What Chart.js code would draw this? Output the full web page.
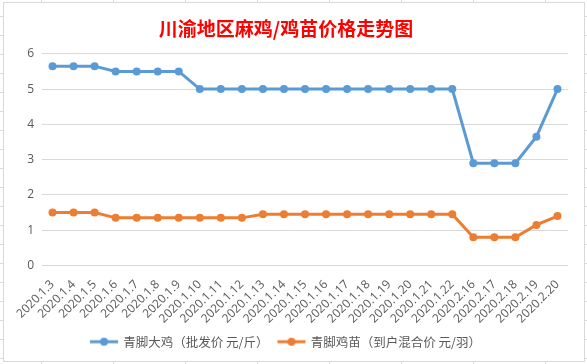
<!DOCTYPE html>
<html>
<head>
<meta charset="utf-8">
<script src="https://cdn.jsdelivr.net/npm/chart.js@4/dist/chart.umd.min.js"></script>
<style>
  html, body { margin: 0; padding: 0; }
  body {
    width: 587px; height: 364px; overflow: hidden; position: relative;
    background-color: #fff;
    background-image:
      linear-gradient(to right, #d9d9d9 1px, transparent 1px),
      linear-gradient(to bottom, #d9d9d9 1px, transparent 1px);
    background-size: 72px 100%, 100% 19px;
    background-position: 41px 0, 0 16px;
  }
  #box {
    position: absolute; left: 3px; top: 2px; width: 580px; height: 358px;
    border: 1px solid #d9d9d9; background: #fff;
  }
  canvas { display: block; }
</style>
</head>
<body>
<div id="box"><canvas id="c" width="580" height="358"></canvas></div>
<script>
const categories = ["2020.1.3","2020.1.4","2020.1.5","2020.1.6","2020.1.7","2020.1.8","2020.1.9","2020.1.10","2020.1.11","2020.1.12","2020.1.13","2020.1.14","2020.1.15","2020.1.16","2020.1.17","2020.1.18","2020.1.19","2020.1.20","2020.1.21","2020.1.22","2020.2.16","2020.2.17","2020.2.18","2020.2.19","2020.2.20"];
const chickenPrice = [5.65,5.65,5.65,5.5,5.5,5.5,5.5,5,5,5,5,5,5,5,5,5,5,5,5,5,2.9,2.9,2.9,3.65,5];
const chickPrice = [1.5,1.5,1.5,1.35,1.35,1.35,1.35,1.35,1.35,1.35,1.45,1.45,1.45,1.45,1.45,1.45,1.45,1.45,1.45,1.45,0.8,0.8,0.8,1.15,1.4];
const seriesNames = ["青脚大鸡（批发价 元/斤）","青脚鸡苗（到户混合价 元/羽）"];
const titleText = "川渝地区麻鸡/鸡苗价格走势图";

function legendIcon(color) {
  const cv = document.createElement('canvas');
  cv.width = 30; cv.height = 10;
  const g = cv.getContext('2d');
  g.strokeStyle = color; g.lineWidth = 3;
  g.beginPath(); g.moveTo(1, 5); g.lineTo(29, 5); g.stroke();
  g.fillStyle = color;
  g.beginPath(); g.arc(15, 5, 4, 0, Math.PI * 2); g.fill();
  return cv;
}
const colors = ["#5B9BD5", "#ED7D31"];
const icons = colors.map(legendIcon);

new Chart(document.getElementById('c'), {
  type: 'line',
  data: {
    labels: categories,
    datasets: [
      { label: seriesNames[0], data: chickenPrice, borderColor: colors[0], backgroundColor: colors[0],
        borderWidth: 3, pointRadius: 4, pointBackgroundColor: colors[0], pointBorderWidth: 0, tension: 0 },
      { label: seriesNames[1], data: chickPrice, borderColor: colors[1], backgroundColor: colors[1],
        borderWidth: 3, pointRadius: 4, pointBackgroundColor: colors[1], pointBorderWidth: 0, tension: 0 }
    ]
  },
  options: {
    responsive: false,
    animation: false,
    devicePixelRatio: 1,
    layout: { padding: { left: 0, right: 16, top: 0, bottom: 3 } },
    plugins: {
      title: {
        display: true, text: titleText, color: '#FF0000',
        font: { family: '"Noto Sans CJK SC"', size: 19, weight: 'bold' },
        padding: { top: 14, bottom: 14 }
      },
      legend: {
        position: 'bottom',
        labels: {
          color: '#595959',
          font: { family: '"Noto Sans CJK SC", "Noto Sans"', size: 12.5 },
          usePointStyle: true, pointStyleWidth: 26, boxHeight: 10,
          padding: 10,
          generateLabels: (chart) => chart.data.datasets.map((ds, i) => ({
            text: ds.label, pointStyle: icons[i], fillStyle: colors[i], strokeStyle: colors[i],
            lineWidth: 0, hidden: false, datasetIndex: i, fontColor: '#595959'
          }))
        }
      },
      tooltip: { enabled: false }
    },
    scales: {
      x: {
        offset: true,
        grid: { display: false },
        border: { display: false },
        ticks: {
          color: '#595959', minRotation: 45, maxRotation: 45, autoSkip: false,
          font: { family: '"Open Sans", "Noto Sans"', size: 12 }, padding: 4
        },
        afterFit: (s) => { s.height = 60; }
      },
      y: {
        min: 0, max: 6,
        grid: { color: '#d9d9d9', drawTicks: false },
        border: { display: false },
        ticks: { stepSize: 1, color: '#595959', padding: 8, font: { family: '"Open Sans", "Noto Sans"', size: 12 } },
        afterFit: (s) => { s.width = 38; }
      }
    }
  }
});
</script>
</body>
</html>
